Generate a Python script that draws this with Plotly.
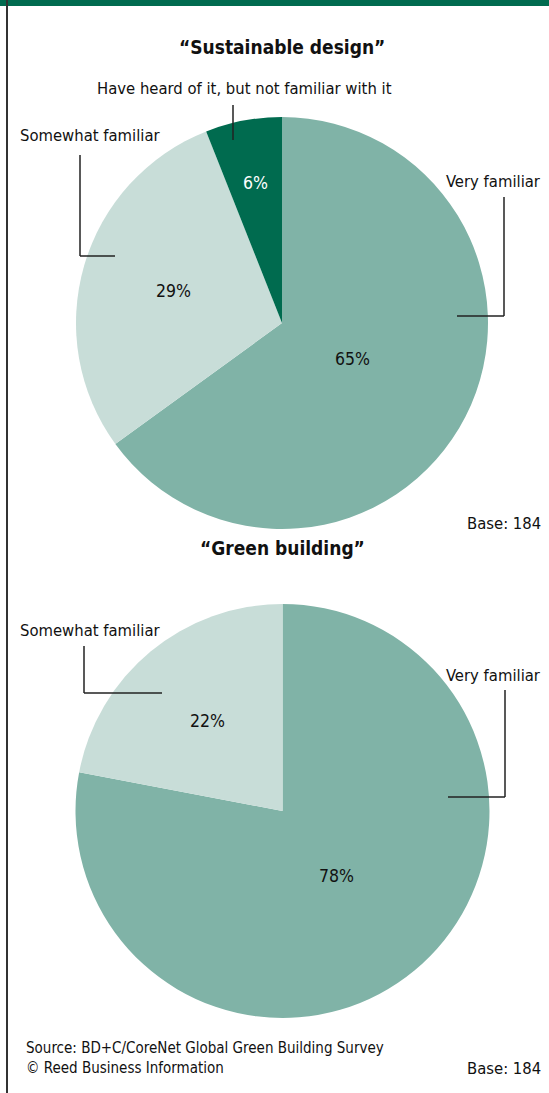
import math
import plotly.graph_objects as go

W, H = 549, 1093

sd_labels = ["Very familiar", "Somewhat familiar", "Have heard of it, but not familiar with it"]
sd_values = [65, 29, 6]
gb_labels = ["Very familiar", "Somewhat familiar"]
gb_values = [78, 22]
colors = ["#80B3A7", "#C8DDD8", "#006B4F"]
titles = ["\u201cSustainable design\u201d", "\u201cGreen building\u201d"]
base_text = "Base: 184"
source_text = "Source: BD+C/CoreNet Global Green Building Survey<br>\u00a9 Reed Business Information"

FONT = "Liberation Sans Narrow, DejaVu Sans Condensed, Arial Narrow, sans-serif"
FS = 16.5
PCT_FS = 17.5

def px(x):
    return x / W

def py(y):
    return 1 - y / H

# pie geometry (pixels): centre and radius; rfrac = label distance along slice bisector
PIES = [
    dict(labels=sd_labels, values=sd_values, cx=282, cy=323, r=206, rfrac=[0.385, 0.55, 0.69]),
    dict(labels=gb_labels, values=gb_values, cx=282.5, cy=811, r=207, rfrac=[0.41, 0.565]),
]

fig = go.Figure()
ann = []

for p in PIES:
    n = len(p["values"])
    fig.add_trace(go.Pie(
        labels=p["labels"], values=p["values"], sort=False, direction="clockwise", rotation=0,
        marker=dict(colors=colors[:n], line=dict(width=0)),
        textinfo="none",
        domain=dict(x=[px(p["cx"] - p["r"]), px(p["cx"] + p["r"])],
                    y=[py(p["cy"] + p["r"]), py(p["cy"] - p["r"])]),
        showlegend=False, hoverinfo="label+percent",
    ))
    # percentage labels placed along each slice's bisector
    total = sum(p["values"])
    cum = 0
    for i, v in enumerate(p["values"]):
        mid = (cum + v / 2) / total * 2 * math.pi
        cum += v
        d = p["rfrac"][i] * p["r"]
        x = p["cx"] + d * math.sin(mid)
        y = p["cy"] - d * math.cos(mid)
        ann.append(dict(xref="paper", yref="paper", x=px(x), y=py(y), text="%d%%" % v,
                        showarrow=False, xanchor="center", yanchor="middle",
                        font=dict(family=FONT, size=PCT_FS, color="#ffffff" if i == 2 else "#111111")))

shapes = []
# top bar and left border
shapes.append(dict(type="rect", xref="paper", yref="paper", x0=0, x1=1, y0=py(6), y1=1,
                   fillcolor="#006B4F", line=dict(width=0), layer="above"))
shapes.append(dict(type="line", xref="paper", yref="paper", x0=px(7), x1=px(7), y0=0, y1=1,
                   line=dict(color="#333333", width=2)))

def leader(points):
    for (x0, y0), (x1, y1) in zip(points[:-1], points[1:]):
        shapes.append(dict(type="line", xref="paper", yref="paper",
                           x0=px(x0), y0=py(y0), x1=px(x1), y1=py(y1),
                           line=dict(color="#222222", width=1.5), layer="above"))

# Sustainable design leaders
leader([(504, 197), (504, 316), (457, 316)])
leader([(80, 155), (80, 256), (115, 256)])
leader([(233, 105), (233, 140)])
# Green building leaders
leader([(84, 646), (84, 693), (162, 693)])
leader([(505, 690), (505, 797), (448, 797)])

def add_text(x, y, text, size=FS, bold=False, anchor="center", yanchor="middle"):
    ann.append(dict(xref="paper", yref="paper", x=px(x), y=py(y), text=("<b>%s</b>" % text) if bold else text,
                    showarrow=False, xanchor=anchor, yanchor=yanchor,
                    font=dict(family=FONT, size=size, color="#111111")))

add_text(282, 47, titles[0], size=19, bold=True)
add_text(282, 548, titles[1], size=19, bold=True)
add_text(244, 89, sd_labels[2])
add_text(90, 135, sd_labels[1])
add_text(543, 181, sd_labels[0], anchor="right")
add_text(543, 523, base_text, anchor="right")
add_text(90, 630, gb_labels[1])
add_text(543, 675, gb_labels[0], anchor="right")
add_text(543, 1068, base_text, anchor="right")
ann.append(dict(xref="paper", yref="paper", x=px(24), y=py(1058), text=source_text,
                showarrow=False, xanchor="left", yanchor="middle", align="left",
                font=dict(family=FONT, size=15, color="#111111")))

fig.update_layout(
    width=W, height=H, margin=dict(l=0, r=0, t=0, b=0),
    paper_bgcolor="white", plot_bgcolor="white",
    shapes=shapes, annotations=ann,
    font=dict(family=FONT),
)

fig.write_html("out.html", config={"displayModeBar": False},
               post_script="document.body.style.margin='0';document.body.style.padding='0';"
                           "document.documentElement.style.overflow='hidden';")
